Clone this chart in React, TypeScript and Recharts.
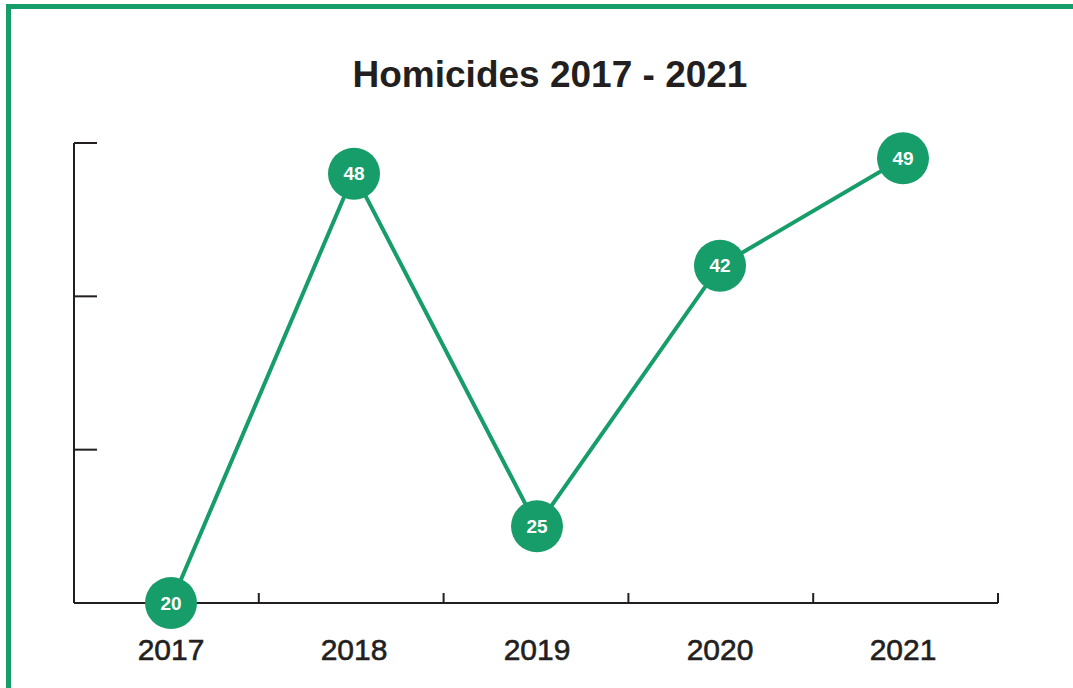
import { Line, LineChart, XAxis, YAxis } from 'recharts'

const YEARS = ['2017', '2018', '2019', '2020', '2021']
const HOMICIDES = [20, 48, 25, 42, 49]
const Y_TICKS = [20, 30, 40, 50]
const EDGE_TICKS = [1, 2, 3, 4, 5]

const GREEN = '#179d6a'
const INK = '#231f20'
const FONT = '"Liberation Sans", Arial, Helvetica, sans-serif'

const data = YEARS.map((year, i) => ({ year, value: HOMICIDES[i], edge: i + 0.5 }))

// tick marks only, no labels
const NoLabel = () => <g />

function BubbleDot(props: any) {
  const { cx, cy, value, index } = props
  if (cx == null || cy == null) return null
  return (
    <g key={`dot-${index}`}>
      <circle cx={cx} cy={cy} r={26} fill={GREEN} />
      <text
        x={cx}
        y={cy}
        dy={6.5}
        textAnchor="middle"
        fill="#fff"
        fontFamily={FONT}
        fontWeight={700}
        fontSize={19}
      >
        {value}
      </text>
    </g>
  )
}

export default function App() {
  return (
    <div
      style={{
        position: 'absolute',
        left: 0,
        top: 0,
        width: 1073,
        height: 688,
        overflow: 'hidden',
        background: '#fff',
        fontFamily: FONT,
      }}
    >
      <div
        style={{
          position: 'absolute',
          left: 6,
          top: 4,
          width: 1200,
          height: 800,
          border: `5px solid ${GREEN}`,
          boxSizing: 'border-box',
        }}
      />
      <div
        style={{
          position: 'absolute',
          left: 0,
          top: 56,
          width: 1100,
          textAlign: 'center',
          fontSize: 37,
          lineHeight: '37px',
          fontWeight: 700,
          color: INK,
        }}
      >
        Homicides 2017 - 2021
      </div>
      <div style={{ position: 'absolute', left: 0, top: 0 }}>
        <LineChart
          width={1073}
          height={688}
          data={data}
          margin={{ top: 143, left: 74, right: 75, bottom: 35 }}
        >
          <XAxis
            xAxisId="edge"
            dataKey="edge"
            type="number"
            domain={[0, 5]}
            ticks={EDGE_TICKS}
            mirror
            height={2}
            tick={NoLabel}
            tickSize={10}
            axisLine={{ stroke: INK, strokeWidth: 2 }}
            tickLine={{ stroke: INK, strokeWidth: 2 }}
          />
          <XAxis
            dataKey="year"
            height={50}
            padding={{ left: 97, right: 95 }}
            axisLine={false}
            tickLine={false}
            tickMargin={30}
            tick={{ fill: INK, stroke: INK, strokeWidth: 0.6, fontSize: 30, fontFamily: FONT }}
          />
          <YAxis
            domain={[20, 50]}
            ticks={Y_TICKS}
            mirror
            width={2}
            tick={NoLabel}
            tickSize={23}
            axisLine={{ stroke: INK, strokeWidth: 2 }}
            tickLine={{ stroke: INK, strokeWidth: 2 }}
          />
          <Line
            dataKey="value"
            stroke={GREEN}
            strokeWidth={4}
            dot={BubbleDot}
            activeDot={false}
            isAnimationActive={false}
          />
        </LineChart>
      </div>
    </div>
  )
}
